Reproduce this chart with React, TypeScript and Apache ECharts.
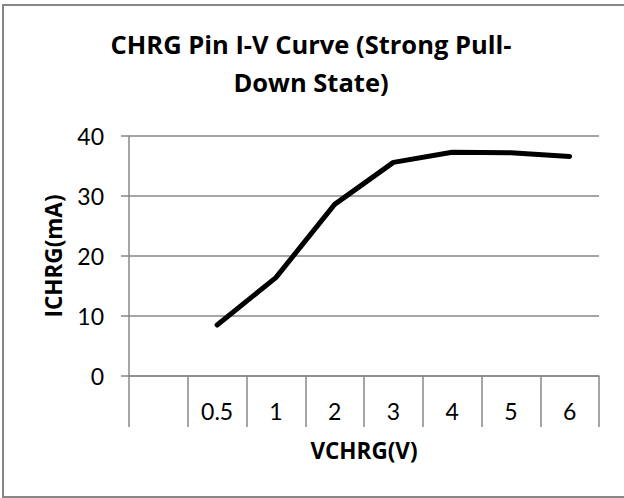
import React, { useEffect, useRef } from "react";
import * as echarts from "echarts";

const categories = ["", "0.5", "1", "2", "3", "4", "5", "6"];
const currentMA: (number | string)[] = ["-", 8.5, 16.4, 28.6, 35.6, 37.3, 37.2, 36.6];
const yTicks = { min: 0, max: 40, interval: 10 };
const titleText = "CHRG Pin I-V Curve (Strong Pull-\nDown State)";
const xName = "VCHRG(V)";
const yName = "ICHRG(mA)";

const FONT = "Lato, 'Open Sans', sans-serif";
const BOLD_FONT = "'Open Sans', Lato, sans-serif";
const GRAY = "#878787";

export default function App() {
  const ref = useRef<HTMLDivElement>(null);
  useEffect(() => {
    if (!ref.current) return;
    const chart = echarts.init(ref.current, undefined, { renderer: "svg" });
    chart.setOption({
      animation: false,
      backgroundColor: "#ffffff",
      textStyle: { fontFamily: FONT },
      title: {
        text: titleText,
        left: 306,
        top: 20,
        textAlign: "center",
        textStyle: {
          fontFamily: BOLD_FONT,
          fontSize: 25.5,
          fontWeight: "bold",
          color: "#000",
          lineHeight: 38,
        },
      },
      graphic: [
        {
          type: "rect",
          shape: { x: 3, y: 5, width: 640, height: 492 },
          style: { fill: "none", stroke: GRAY, lineWidth: 2 },
          silent: true,
        },
        {
          type: "text",
          x: 53,
          y: 256,
          rotation: Math.PI / 2,
          style: {
            text: yName,
            fontFamily: BOLD_FONT,
            fontSize: 22.5,
            fontWeight: "bold",
            fill: "#000",
            align: "center",
            verticalAlign: "middle",
          },
        },
      ],
      grid: { left: 129, right: 25, top: 136, bottom: 122, containLabel: false },
      xAxis: {
        type: "category",
        data: categories,
        boundaryGap: true,
        axisLine: { lineStyle: { color: GRAY, width: 1.5 } },
        axisTick: { show: true, length: 51, interval: 0, lineStyle: { color: GRAY, width: 1.5 } },
        axisLabel: { interval: 0, margin: 23, color: "#000", fontSize: 23, fontFamily: FONT },
        name: xName,
        nameLocation: "middle",
        nameGap: 63,
        nameTextStyle: { fontFamily: BOLD_FONT, fontSize: 22.5, fontWeight: "bold", color: "#000" },
      },
      yAxis: {
        type: "value",
        min: yTicks.min,
        max: yTicks.max,
        interval: yTicks.interval,
        axisLine: { show: true, lineStyle: { color: GRAY, width: 1.5 } },
        axisTick: { show: true, length: 8, lineStyle: { color: GRAY, width: 1.5 } },
        splitLine: { show: true, lineStyle: { color: GRAY, width: 1.5 } },
        axisLabel: { margin: 25, color: "#000", fontSize: 23, fontFamily: FONT },
      },
      series: [
        {
          type: "line",
          data: currentMA,
          showSymbol: false,
          symbol: "none",
          lineStyle: { color: "#000", width: 5, cap: "round", join: "round" },
        },
      ],
    });
    return () => chart.dispose();
  }, []);
  return (
    <div
      ref={ref}
      style={{ position: "absolute", left: 0, top: 0, width: 624, height: 498 }}
    />
  );
}
